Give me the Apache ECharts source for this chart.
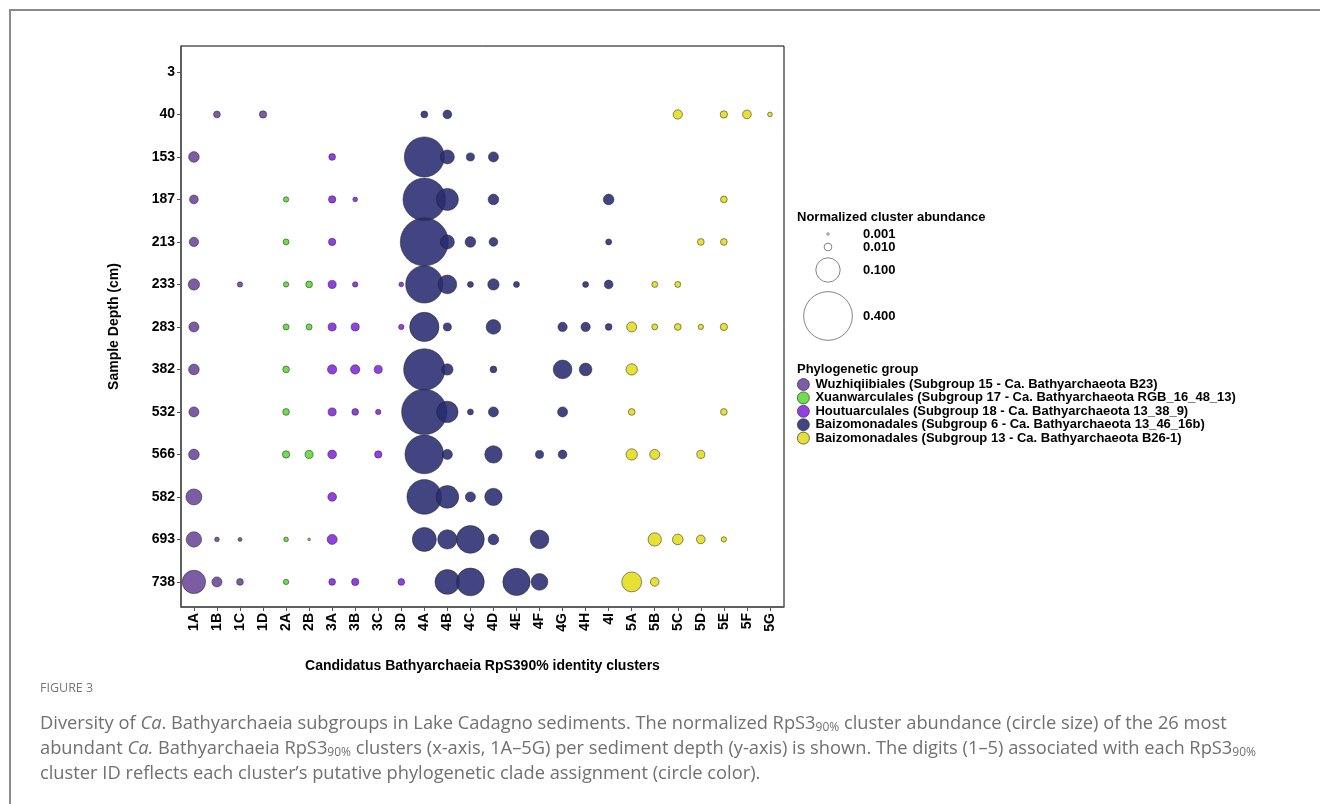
<!DOCTYPE html>
<html>
<head>
<meta charset="utf-8">
<script src="https://cdn.jsdelivr.net/npm/echarts@6/dist/echarts.min.js"></script>
<style>
html,body{margin:0;padding:0;background:#fff;}
#chart{width:1320px;height:804px;}
</style>
</head>
<body>
<div id="chart"></div>
<script>
// ---------- DATA ----------
const clusters = ['1A','1B','1C','1D','2A','2B','3A','3B','3C','3D','4A','4B','4C','4D','4E','4F','4G','4H','4I','5A','5B','5C','5D','5E','5F','5G'];
const depths = ['3','40','153','187','213','233','283','382','532','566','582','693','738'];
const groupNames = [
  'Wuzhiqiibiales (Subgroup 15 - Ca. Bathyarchaeota B23)',
  'Xuanwarculales (Subgroup 17 - Ca. Bathyarchaeota RGB_16_48_13)',
  'Houtuarculales (Subgroup 18 - Ca. Bathyarchaeota 13_38_9)',
  'Baizomonadales (Subgroup 6 - Ca. Bathyarchaeota 13_46_16b)',
  'Baizomonadales (Subgroup 13 - Ca. Bathyarchaeota B26-1)'
];
const sizeLegendValues = [0.001, 0.010, 0.100, 0.400];
const sizeLegendLabels = ['0.001', '0.010', '0.100', '0.400'];

// [cluster, depth, normalized abundance]
const wuzhiqiibiales = [
  ['1B','40',0.0076],['1D','40',0.009],
  ['1A','153',0.019],
  ['1A','187',0.0128],
  ['1A','213',0.0146],
  ['1A','233',0.0216],['1C','233',0.0048],
  ['1A','283',0.017],
  ['1A','382',0.019],
  ['1A','532',0.017],
  ['1A','566',0.019],
  ['1A','582',0.043],
  ['1A','693',0.040],['1B','693',0.0037],['1C','693',0.0027],
  ['1A','738',0.092],['1B','738',0.017],['1C','738',0.0076]
];
const xuanwarculales = [
  ['2A','187',0.0048],
  ['2A','213',0.006],
  ['2A','233',0.0048],['2B','233',0.0076],
  ['2A','283',0.006],['2B','283',0.006],
  ['2A','382',0.0076],
  ['2A','532',0.0076],
  ['2A','566',0.009],['2B','566',0.011],
  ['2A','693',0.0037],['2B','693',0.0012],
  ['2A','738',0.0048]
];
const houtuarculales = [
  ['3A','153',0.0076],
  ['3A','187',0.009],['3B','187',0.0037],
  ['3A','213',0.009],
  ['3A','233',0.011],['3B','233',0.0048],['3D','233',0.0037],
  ['3A','283',0.011],['3B','283',0.011],['3D','283',0.0048],
  ['3A','382',0.0146],['3B','382',0.0146],['3C','382',0.011],
  ['3A','532',0.011],['3B','532',0.0076],['3C','532',0.0048],
  ['3A','566',0.0128],['3C','566',0.009],
  ['3A','582',0.0128],
  ['3A','693',0.017],
  ['3A','738',0.0076],['3B','738',0.009],['3D','738',0.0076]
];
const baizoSG6 = [
  ['4A','40',0.008],['4B','40',0.0128],
  ['4A','153',0.27],['4B','153',0.033],['4C','153',0.011],['4D','153',0.017],
  ['4A','187',0.307],['4B','187',0.082],['4D','187',0.019],['4I','187',0.019],
  ['4A','213',0.389],['4B','213',0.033],['4C','213',0.019],['4D','213',0.0128],['4I','213',0.006],
  ['4A','233',0.235],['4B','233',0.059],['4C','233',0.006],['4D','233',0.0216],['4E','233',0.006],['4H','233',0.006],['4I','233',0.0128],
  ['4A','283',0.145],['4B','283',0.011],['4D','283',0.036],['4G','283',0.0146],['4H','283',0.0146],['4I','283',0.0076],
  ['4A','382',0.288],['4B','382',0.0216],['4D','382',0.0076],['4G','382',0.059],['4H','382',0.027],
  ['4A','532',0.347],['4B','532',0.077],['4C','532',0.006],['4D','532',0.017],['4G','532',0.017],
  ['4A','566',0.252],['4B','566',0.017],['4D','566',0.051],['4F','566',0.011],['4G','566',0.0128],
  ['4A','582',0.203],['4B','582',0.087],['4C','582',0.017],['4D','582',0.051],
  ['4A','693',0.097],['4B','693',0.063],['4C','693',0.13],['4D','693',0.019],['4F','693',0.059],
  ['4B','738',0.103],['4C','738',0.13],['4E','738',0.126],['4F','738',0.047]
];
const baizoSG13 = [
  ['5C','40',0.0146],['5E','40',0.009],['5F','40',0.0128],['5G','40',0.0037],
  ['5E','187',0.0076],
  ['5D','213',0.0076],['5E','213',0.0076],
  ['5B','233',0.006],['5C','233',0.006],
  ['5A','283',0.017],['5B','283',0.006],['5C','283',0.0076],['5D','283',0.0048],['5E','283',0.009],
  ['5A','382',0.0216],
  ['5A','532',0.0076],['5E','532',0.0076],
  ['5A','566',0.0216],['5B','566',0.017],['5D','566',0.011],
  ['5B','693',0.030],['5C','693',0.019],['5D','693',0.0128],['5E','693',0.0048],
  ['5A','738',0.067],['5B','738',0.0128]
];
const groups = [wuzhiqiibiales, xuanwarculales, houtuarculales, baizoSG6, baizoSG13];

// ---------- STYLE ----------
const groupColors = ['#6a4697', '#5ad835', '#8324e0', '#282b71', '#e3dd18'];
const SIZE_K = 77;
const sizeOf = v => SIZE_K * Math.sqrt(v);
const boldFont = '"Liberation Sans", Arial, sans-serif';

const series = groups.map((g, gi) => ({
  name: groupNames[gi],
  type: 'scatter',
  data: g.map(r => [clusters.indexOf(r[0]), depths.indexOf(r[1]), r[2]]),
  symbolSize: d => sizeOf(d[2]),
  itemStyle: { color: groupColors[gi], opacity: 0.88, borderColor: '#222', borderWidth: 0.6 },
  emphasis: { disabled: true },
  z: 2
}));

const idxX = clusters.map((_, i) => i);
const idxY = depths.map((_, i) => i);

// size legend graphics
const legX = 828, legLabelX = 863;
const legY = [234, 247, 270, 316];
const sizeGraphics = [];
sizeLegendValues.forEach((v, i) => {
  sizeGraphics.push({ type: 'circle', shape: { cx: legX, cy: legY[i], r: sizeOf(v) / 2 },
    style: { fill: '#fff', stroke: '#666', lineWidth: 0.8 } });
  sizeGraphics.push({ type: 'text', x: legLabelX, y: legY[i],
    style: { text: sizeLegendLabels[i], font: 'bold 13px ' + boldFont, fill: '#000', textVerticalAlign: 'middle' } });
});

const capFont = '"Open Sans", "Noto Sans", sans-serif';
const capSize = 18.3;
const capColor = '#707070';
const capRich = {
  i: { fontFamily: capFont, fontSize: capSize, fontStyle: 'italic', color: capColor },
  s: { fontFamily: capFont, fontSize: 12, color: '#7a7a7a', padding: [8, 0, 0, 0] }
};

const chart = echarts.init(document.getElementById('chart'), null, { renderer: 'canvas' });
chart.setOption({
  animation: false,
  backgroundColor: '#fff',
  grid: { left: 181, top: 46, width: 603, height: 561, show: true, borderColor: '#000', borderWidth: 1, backgroundColor: '#fff' },
  xAxis: {
    type: 'value', min: -0.56, max: 25.61,
    name: 'Candidatus Bathyarchaeia RpS390% identity clusters',
    nameLocation: 'middle', nameGap: 52,
    nameTextStyle: { fontFamily: boldFont, fontWeight: 'bold', fontSize: 14, color: '#000' },
    axisLine: { show: true, onZero: false, lineStyle: { color: '#555', width: 1.5 } },
    axisTick: { show: true, customValues: idxX, length: 4, lineStyle: { color: '#555' } },
    axisLabel: { customValues: idxX, rotate: 90, margin: 6, formatter: v => clusters[Math.round(v)],
      fontFamily: boldFont, fontWeight: 'bold', fontSize: 14, color: '#000' },
    splitLine: { show: false }
  },
  yAxis: {
    type: 'value', min: -0.61, max: 12.59, inverse: true,
    name: 'Sample Depth (cm)',
    nameLocation: 'middle', nameGap: 60,
    nameTextStyle: { fontFamily: boldFont, fontWeight: 'bold', fontSize: 14, color: '#000' },
    axisLine: { show: true, onZero: false, lineStyle: { color: '#555', width: 1.5 } },
    axisTick: { show: true, customValues: idxY, length: 4, lineStyle: { color: '#555' } },
    axisLabel: { customValues: idxY, margin: 6, formatter: v => depths[Math.round(v)],
      fontFamily: boldFont, fontWeight: 'bold', fontSize: 14, color: '#000' },
    splitLine: { show: false }
  },
  legend: {
    orient: 'vertical', left: 797, top: 378, padding: 0,
    itemWidth: 12, itemHeight: 12, itemGap: 0.4,
    textStyle: { fontFamily: boldFont, fontWeight: 'bold', fontSize: 13, color: '#000', padding: [0, 0, 0, 1] },
    data: groupNames.map((n, i) => ({ name: n, icon: 'circle', itemStyle: { color: groupColors[i], borderColor: '#333', borderWidth: 0.8 } })),
    selectedMode: false
  },
  graphic: [
    { type: 'rect', shape: { x: 10, y: 10, width: 1400, height: 900 }, style: { fill: 'none', stroke: '#8a8a8a', lineWidth: 2 }, silent: true, z: -1 },
    { type: 'text', x: 797, y: 217, style: { text: 'Normalized cluster abundance', font: 'bold 13px ' + boldFont, fill: '#000', textVerticalAlign: 'middle' } },
    { type: 'text', x: 797, y: 369, style: { text: 'Phylogenetic group', font: 'bold 13px ' + boldFont, fill: '#000', textVerticalAlign: 'middle' } },
    ...sizeGraphics,
    { type: 'text', x: 40, y: 688, style: { text: 'FIGURE 3', font: '12.5px ' + capFont, fill: '#777', textVerticalAlign: 'middle' } },
    { type: 'text', x: 40, y: 711, style: {
        text: 'Diversity of {i|Ca}. Bathyarchaeia subgroups in Lake Cadagno sediments. The normalized RpS3{s|90%} cluster abundance (circle size) of the 26 most\n' +
              'abundant {i|Ca.} Bathyarchaeia RpS3{s|90%} clusters (x-axis, 1A\u20135G) per sediment depth (y-axis) is shown. The digits (1\u20135) associated with each RpS3{s|90%}\n' +
              'cluster ID reflects each cluster\u2019s putative phylogenetic clade assignment (circle color).',
        fontFamily: capFont, fontSize: capSize, fill: capColor, lineHeight: 25, rich: capRich } }
  ],
  series: series
});
</script>
</body>
</html>
